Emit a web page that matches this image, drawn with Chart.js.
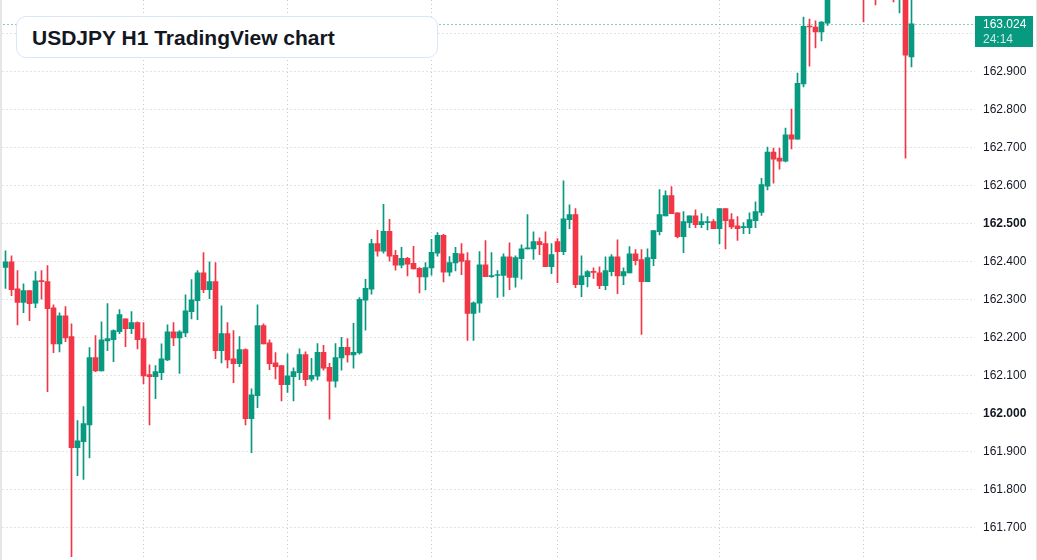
<!DOCTYPE html>
<html>
<head>
<meta charset="utf-8">
<script src="https://cdn.jsdelivr.net/npm/chart.js@4.4.1/dist/chart.umd.min.js"></script>
<style>
  html, body { margin: 0; padding: 0; background: #fff; overflow: hidden; }
  #wrap { position: relative; width: 1037px; height: 600px; }
  #edge-left { position: absolute; left: 0; top: 0; width: 2px; height: 600px; background: #e6e6e6; z-index: 2; }
  #edge-right { position: absolute; right: 0; top: 0; width: 1px; height: 600px; background: #e6e6e6; z-index: 2; }
  #title {
    position: absolute; left: 16px; top: 16px; width: 405px; height: 40px;
    padding-left: 15px; border: 1px solid #d9e5f8; border-radius: 10px;
    background: #fff; z-index: 3;
    font: bold 21px "Liberation Sans", Arial, sans-serif; color: #131722;
    line-height: 41px;
  }
</style>
</head>
<body>
<div id="wrap">
  <canvas id="chart" width="1037" height="600"></canvas>
  <div id="edge-left"></div>
  <div id="edge-right"></div>
  <div id="title">USDJPY H1 TradingView chart</div>
</div>
<script>
// USDJPY hourly candles
const opens = [
  162.383, 162.398, 162.327, 162.291, 162.322, 162.289, 162.348, 162.346, 162.277, 162.182,
  162.256, 162.201, 161.909, 161.925, 161.969, 162.146, 162.111, 162.190, 162.193, 162.214,
  162.248, 162.222, 162.238, 162.196, 162.101, 162.096, 162.106, 162.140, 162.214, 162.198,
  162.211, 162.267, 162.296, 162.369, 162.325, 162.346, 162.164, 162.209, 162.143, 162.130,
  162.167, 161.985, 162.046, 162.230, 162.185, 162.132, 162.125, 162.075, 162.096, 162.106,
  162.154, 162.089, 162.097, 162.160, 162.120, 162.084, 162.145, 162.173, 162.153, 162.158,
  162.297, 162.326, 162.446, 162.426, 162.478, 162.415, 162.389, 162.407, 162.394, 162.381,
  162.358, 162.382, 162.421, 162.468, 162.371, 162.395, 162.419, 162.401, 162.262, 162.289,
  162.390, 162.359, 162.362, 162.362, 162.411, 162.357, 162.406, 162.432, 162.432, 162.451,
  162.446, 162.385, 162.451, 162.425, 162.509, 162.522, 162.338, 162.359, 162.373, 162.369,
  162.335, 162.372, 162.411, 162.361, 162.369, 162.419, 162.404, 162.346, 162.406, 162.477,
  162.519, 162.572, 162.527, 162.464, 162.501, 162.519, 162.496, 162.501, 162.504, 162.485,
  162.538, 162.509, 162.493, 162.488, 162.488, 162.506, 162.528, 162.597, 162.687, 162.671,
  162.663, 162.732, 162.721, 162.866, 163.018, 163.016, 163.003, 163.026, 163.120, 163.160,
  163.150, 163.180, 163.170, 163.140, 163.100, 163.130, 163.110, 163.140, 163.130, 163.090,
  163.110, 162.937
];
const highs = [
  162.427, 162.414, 162.375, 162.340, 162.322, 162.372, 162.375, 162.388, 162.285, 162.264,
  162.280, 162.235, 161.980, 162.017, 162.172, 162.204, 162.240, 162.288, 162.219, 162.272,
  162.248, 162.267, 162.240, 162.238, 162.127, 162.125, 162.182, 162.232, 162.238, 162.217,
  162.311, 162.351, 162.375, 162.422, 162.398, 162.396, 162.282, 162.238, 162.217, 162.201,
  162.169, 162.064, 162.285, 162.235, 162.193, 162.159, 162.125, 162.156, 162.119, 162.169,
  162.161, 162.144, 162.183, 162.178, 162.131, 162.183, 162.199, 162.196, 162.236, 162.304,
  162.352, 162.457, 162.481, 162.549, 162.510, 162.428, 162.436, 162.410, 162.439, 162.383,
  162.396, 162.457, 162.475, 162.470, 162.412, 162.436, 162.446, 162.422, 162.293, 162.425,
  162.454, 162.422, 162.375, 162.419, 162.448, 162.414, 162.443, 162.522, 162.477, 162.461,
  162.477, 162.446, 162.459, 162.611, 162.548, 162.538, 162.414, 162.375, 162.382, 162.385,
  162.411, 162.417, 162.456, 162.382, 162.438, 162.430, 162.430, 162.432, 162.480, 162.588,
  162.585, 162.596, 162.527, 162.530, 162.519, 162.535, 162.525, 162.517, 162.509, 162.538,
  162.538, 162.525, 162.517, 162.501, 162.527, 162.556, 162.618, 162.700, 162.697, 162.697,
  162.750, 162.800, 162.895, 163.042, 163.037, 163.032, 163.030, 163.140, 163.180, 163.210,
  163.200, 163.230, 163.200, 163.160, 163.150, 163.140, 163.160, 163.170, 163.150, 163.140,
  163.120, 163.100
];
const lows = [
  162.328, 162.309, 162.232, 162.264, 162.243, 162.277, 162.300, 162.056, 162.159, 162.161,
  162.188, 161.622, 161.835, 161.825, 161.882, 162.109, 162.111, 162.164, 162.135, 162.209,
  162.175, 162.209, 162.169, 162.077, 161.969, 162.038, 162.088, 162.138, 162.177, 162.104,
  162.201, 162.248, 162.246, 162.317, 162.301, 162.143, 162.132, 162.119, 162.080, 162.122,
  161.969, 161.896, 162.014, 162.182, 162.114, 162.090, 162.032, 162.054, 162.032, 162.088,
  162.072, 162.084, 162.087, 162.113, 161.984, 162.068, 162.113, 162.134, 162.118, 162.155,
  162.218, 162.313, 162.413, 162.421, 162.400, 162.376, 162.382, 162.361, 162.379, 162.316,
  162.324, 162.363, 162.413, 162.345, 162.361, 162.374, 162.364, 162.191, 162.191, 162.265,
  162.359, 162.357, 162.304, 162.307, 162.325, 162.331, 162.352, 162.432, 162.404, 162.417,
  162.385, 162.367, 162.343, 162.417, 162.485, 162.330, 162.306, 162.332, 162.354, 162.327,
  162.325, 162.361, 162.314, 162.338, 162.369, 162.390, 162.207, 162.346, 162.388, 162.469,
  162.519, 162.525, 162.461, 162.422, 162.488, 162.488, 162.488, 162.482, 162.485, 162.446,
  162.432, 162.485, 162.454, 162.472, 162.472, 162.488, 162.520, 162.587, 162.605, 162.642,
  162.661, 162.695, 162.721, 162.858, 162.913, 162.961, 162.979, 163.020, 163.100, 163.130,
  163.120, 163.150, 163.110, 163.029, 163.090, 163.074, 163.095, 163.110, 163.082, 163.053,
  162.671, 162.911
];
const closes = [
  162.398, 162.325, 162.291, 162.322, 162.288, 162.348, 162.346, 162.275, 162.182, 162.256,
  162.198, 161.909, 161.927, 161.972, 162.146, 162.111, 162.193, 162.196, 162.217, 162.259,
  162.222, 162.238, 162.193, 162.098, 162.096, 162.109, 162.143, 162.214, 162.198, 162.214,
  162.269, 162.298, 162.369, 162.325, 162.346, 162.164, 162.209, 162.140, 162.130, 162.167,
  161.985, 162.048, 162.230, 162.182, 162.130, 162.122, 162.075, 162.098, 162.109, 162.154,
  162.088, 162.099, 162.160, 162.118, 162.084, 162.146, 162.173, 162.153, 162.160, 162.299,
  162.328, 162.446, 162.426, 162.478, 162.413, 162.389, 162.407, 162.392, 162.379, 162.358,
  162.383, 162.423, 162.468, 162.371, 162.396, 162.420, 162.399, 162.262, 162.290, 162.390,
  162.359, 162.361, 162.364, 162.411, 162.357, 162.409, 162.432, 162.435, 162.451, 162.443,
  162.385, 162.417, 162.425, 162.511, 162.522, 162.338, 162.361, 162.372, 162.370, 162.335,
  162.375, 162.411, 162.361, 162.372, 162.419, 162.401, 162.346, 162.409, 162.480, 162.522,
  162.572, 162.525, 162.464, 162.504, 162.519, 162.496, 162.504, 162.504, 162.485, 162.538,
  162.506, 162.490, 162.485, 162.490, 162.509, 162.530, 162.601, 162.687, 162.668, 162.663,
  162.732, 162.721, 162.868, 163.018, 163.016, 163.003, 163.029, 163.120, 163.160, 163.150,
  163.180, 163.170, 163.140, 163.100, 163.130, 163.110, 163.140, 163.130, 163.100, 163.110,
  162.942, 163.024
];

const emptySlots = 10;                       // blank space to the right of the last candle
const gridCandles = [23, 47, 71, 92, 119, 143]; // candles with a vertical time grid line
const yTicks = [161.6, 161.7, 161.8, 161.9, 162.0, 162.1, 162.2, 162.3, 162.4, 162.5, 162.6, 162.7, 162.8, 162.9, 163.0];
const boldTicks = [162.0, 162.5];
const yMax = 163.087;
const yMin = 161.508;
const countdown = "24:14";

const UP = "#089981";
const DOWN = "#f23645";
const GRID = "#c8c8c8";
const FONT = '"Liberation Sans", Arial, sans-serif';

const slots = opens.length + emptySlots;
const labels = [];
for (let i = 0; i < slots; i++) labels.push(String(i + 1));

const colors = opens.map((o, i) => closes[i] >= o ? UP : DOWN);
const bodies = opens.map((o, i) => [o, closes[i]]);
const wicks = lows.map((l, i) => [l, highs[i]]);
const lastClose = closes[closes.length - 1];

// dotted last price line and the price tag on the axis
const priceTag = {
    id: "priceTag",
    afterDatasetsDraw(chart) {
        const { ctx, chartArea, scales } = chart;
        const y = Math.round(scales.y.getPixelForValue(lastClose)) + 0.5;
        ctx.save();
        ctx.strokeStyle = UP;
        ctx.lineWidth = 1;
        ctx.setLineDash([1, 3]);
        ctx.beginPath();
        ctx.moveTo(chartArea.left - 3, y);
        ctx.lineTo(chartArea.right, y);
        ctx.stroke();
        ctx.restore();
    },
    afterDraw(chart) {
        const { ctx, scales } = chart;
        const y = Math.round(scales.y.getPixelForValue(lastClose));
        ctx.save();
        ctx.fillStyle = UP;
        ctx.fillRect(975, y - 8, 58, 31);
        ctx.fillStyle = "#ffffff";
        ctx.font = "12px " + FONT;
        ctx.textBaseline = "middle";
        ctx.fillText(lastClose.toFixed(3), 983, y + 1);
        ctx.fillStyle = "rgba(255,255,255,0.8)";
        ctx.fillText(countdown, 983, y + 16);
        ctx.restore();
    }
};

new Chart(document.getElementById("chart"), {
    type: "bar",
    data: {
        labels: labels,
        datasets: [
            {
                label: "body",
                data: bodies,
                backgroundColor: colors,
                barThickness: 5,
                minBarLength: 1,
                borderWidth: 0,
                grouped: false
            },
            {
                label: "wick",
                data: wicks,
                backgroundColor: colors,
                barThickness: 1,
                borderWidth: 0,
                grouped: false
            }
        ]
    },
    options: {
        responsive: false,
        animation: false,
        layout: { padding: { left: 2.5, right: 0, top: 0, bottom: 0 } },
        plugins: {
            legend: { display: false },
            tooltip: { enabled: false }
        },
        scales: {
            x: {
                offset: true,
                grid: {
                    offset: false,
                    drawTicks: false,
                    color: (c) => gridCandles.includes(c.index) ? GRID : "rgba(0,0,0,0)"
                },
                border: { display: false, dash: [1, 3] },
                ticks: { display: false, autoSkip: false },
                afterFit: (s) => {
                    s.height = 0;
                    s.paddingLeft = 0; s.paddingRight = 0; s.paddingTop = 0; s.paddingBottom = 0;
                }
            },
            y: {
                position: "right",
                min: yMin,
                max: yMax,
                afterBuildTicks: (s) => { s.ticks = yTicks.map(v => ({ value: v })); },
                afterFit: (s) => {
                    s.width = 62.5;
                    s.paddingTop = 0; s.paddingBottom = 0; s.paddingLeft = 0; s.paddingRight = 0;
                },
                grid: { color: GRID, drawTicks: false },
                border: { display: false, dash: [1, 3] },
                ticks: {
                    padding: 8.5,
                    labelOffset: 1,
                    color: "#131722",
                    callback: (v) => Number(v).toFixed(3),
                    font: (c) => ({
                        family: FONT,
                        size: 12,
                        weight: c.tick && boldTicks.some(b => Math.abs(b - c.tick.value) < 1e-6) ? "bold" : "normal"
                    })
                }
            }
        }
    },
    plugins: [priceTag]
});
</script>
</body>
</html>
